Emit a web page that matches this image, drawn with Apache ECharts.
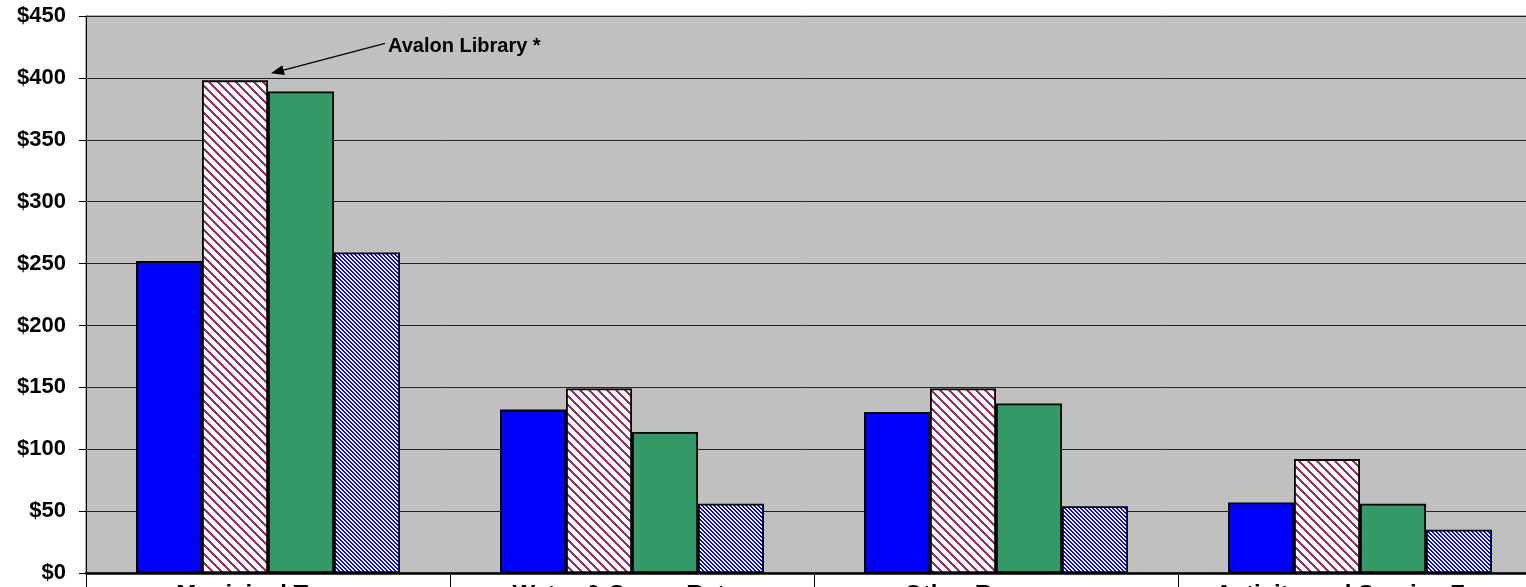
<!DOCTYPE html>
<html><head><meta charset="utf-8">
<script src="https://cdn.jsdelivr.net/npm/echarts@6/dist/echarts.min.js"></script>
<style>html,body{margin:0;padding:0;background:#fff;overflow:hidden}#c{width:1526px;height:587px}</style>
</head><body><div id="c"></div>
<script>
const categories = ['Municipal Taxes', 'Water & Sewer Rates', 'Other Revenues', 'Activity and Service Fees'];
const seriesNames = ['Series 1', 'Avalon Library', 'Series 3', 'Series 4'];
const seriesBlue = [252, 132, 130, 57];
const seriesAvalon = [398, 149, 149, 92];
const seriesGreen = [389, 114, 137, 56];
const seriesBlueHatch = [259, 56, 54, 35];
const yMin = 0, yMax = 450, yStep = 50;
const annotationText = 'Avalon Library *';

function stripe(size, thick, fg, bg) {
  const c = document.createElement('canvas');
  c.width = size; c.height = size;
  const g = c.getContext('2d');
  g.fillStyle = bg; g.fillRect(0, 0, size, size);
  g.fillStyle = fg;
  for (let y = 0; y < size; y++) {
    for (let x = 0; x < size; x++) {
      if ((((x - y) % size) + size) % size < thick) g.fillRect(x, y, 1, 1);
    }
  }
  return { image: c, repeat: 'repeat' };
}

const chart = echarts.init(document.getElementById('c'), null, { renderer: 'canvas' });
const border = { borderColor: '#000', borderWidth: 1.8 };
const font = { fontFamily: 'Liberation Sans, Arial, sans-serif', fontWeight: 'bold', color: '#000' };

chart.setOption({
  animation: false,
  backgroundColor: '#fff',
  grid: { left: 86, top: 16, right: -16, bottom: 14, outerBoundsMode: 'none', containLabel: false, show: true, backgroundColor: '#C0C0C0', borderColor: '#666', borderWidth: 1 },
  xAxis: {
    type: 'category', data: categories,
    axisLine: { lineStyle: { color: '#000', width: 2.5 } },
    axisTick: { show: true, length: 16, alignWithLabel: false, interval: 0, lineStyle: { color: '#000' } },
    axisLabel: Object.assign({ fontSize: 24, margin: 10, interval: 0 }, font)
  },
  yAxis: {
    type: 'value', min: yMin, max: yMax, interval: yStep,
    axisLine: { show: true, lineStyle: { color: '#000', width: 1 } },
    axisTick: { show: true, length: 7, lineStyle: { color: '#000' } },
    splitLine: { show: true, lineStyle: { color: '#222', width: 1 } },
    axisLabel: Object.assign({ fontSize: 22, margin: 20, formatter: v => '$' + v }, font)
  },
  series: [
    { name: seriesNames[0], type: 'bar', data: seriesBlue, barGap: '0%', barCategoryGap: '27.5%', itemStyle: Object.assign({ color: '#0000FF' }, border) },
    { name: seriesNames[1], type: 'bar', data: seriesAvalon, itemStyle: Object.assign({ color: stripe(9, 3, '#993366', '#ffffff') }, border) },
    { name: seriesNames[2], type: 'bar', data: seriesGreen, itemStyle: Object.assign({ color: '#339966' }, border) },
    { name: seriesNames[3], type: 'bar', data: seriesBlueHatch, itemStyle: Object.assign({ color: stripe(4, 2, '#0000FF', '#ffffff') }, border) }
  ]
});

// annotation arrow pointing at the Avalon Library bar in the first category
const p = chart.convertToPixel({ seriesIndex: 1 }, [0, seriesAvalon[0]]);
const tip = [p[0] + 3, p[1] - 7];
const tail = [p[0] + 117, p[1] - 37];
const ang = Math.atan2(tail[1] - tip[1], tail[0] - tip[0]);
const L = 13, W = 5;
const bx = tip[0] + L * Math.cos(ang), by = tip[1] + L * Math.sin(ang);
const nx = -Math.sin(ang) * W, ny = Math.cos(ang) * W;
chart.setOption({
  graphic: [
    { type: 'line', shape: { x1: bx, y1: by, x2: tail[0], y2: tail[1] }, style: { stroke: '#000', lineWidth: 1.3 }, z: 100 },
    { type: 'polygon', shape: { points: [tip, [bx + nx, by + ny], [bx - nx, by - ny]] }, style: { fill: '#000' }, z: 100 },
    { type: 'text', x: tail[0] + 3, y: tail[1] + 3, style: { text: annotationText, fontSize: 20, textVerticalAlign: 'middle', fill: '#000', fontFamily: font.fontFamily, fontWeight: 'bold' }, z: 100 }
  ]
});
</script></body></html>
